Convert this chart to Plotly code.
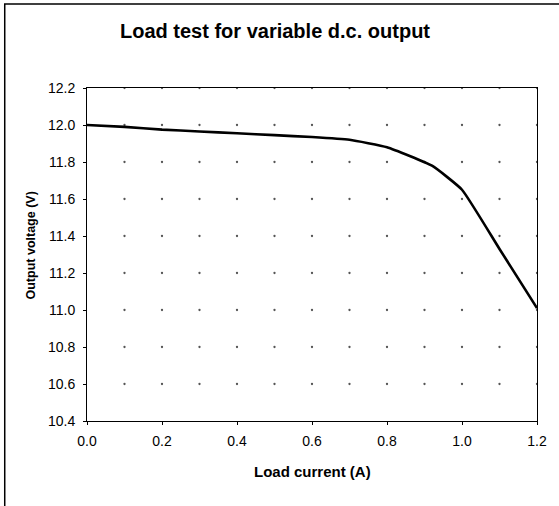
import numpy as np
import plotly.graph_objects as go

# Load test readings
current = [0.0, 0.1, 0.2, 0.3, 0.4, 0.5, 0.6, 0.7, 0.8, 0.92, 1.0, 1.1, 1.2]
voltage = [12.00, 11.99, 11.975, 11.965, 11.955, 11.945, 11.935, 11.92, 11.88, 11.78, 11.65, 11.33, 11.01]

x_ticks = [0.0, 0.2, 0.4, 0.6, 0.8, 1.0, 1.2]
y_ticks = [10.4, 10.6, 10.8, 11.0, 11.2, 11.4, 11.6, 11.8, 12.0, 12.2]

W, H = 559, 506
L, R, T, B = 87, 18, 88, 85
pw, ph = W - L - R, H - T - B

FONT = "Liberation Sans, Arial, sans-serif"

fig = go.Figure()

# dotted grid (Excel-style dots at every minor x step and every y tick)
gx, gy = np.meshgrid(np.arange(1, 13) / 10, np.array(y_ticks[1:]))
fig.add_trace(go.Scatter(
    x=gx.ravel(), y=gy.ravel(), mode="markers",
    marker=dict(size=2.3, color="#555555"),
    hoverinfo="skip", showlegend=False,
))

fig.add_trace(go.Scatter(
    x=current, y=voltage, mode="lines",
    line=dict(color="black", width=2.6, shape="spline", smoothing=0.4),
    showlegend=False,
))

tick_font = dict(family=FONT, size=14, color="black")

fig.update_xaxes(
    range=[0, 1.2], tickvals=x_ticks, ticktext=[f"{v:.1f}" for v in x_ticks],
    showgrid=False, zeroline=False,
    showline=True, linecolor="black", linewidth=1, mirror=True,
    ticks="outside", ticklen=3, tickcolor="black",
    tickfont=tick_font, ticklabelstandoff=4,
)
fig.update_yaxes(
    range=[10.4, 12.2], tickvals=y_ticks, ticktext=[f"{v:.1f}" for v in y_ticks],
    showgrid=False, zeroline=False,
    showline=True, linecolor="black", linewidth=1, mirror=True,
    ticks="outside", ticklen=3, tickcolor="black",
    tickfont=tick_font, ticklabelstandoff=5,
)

# axis titles
fig.add_annotation(
    text="<b>Load current (A)</b>", xref="paper", yref="paper",
    x=(314 - L) / pw, y=-(471 - T - ph) / ph, xanchor="center", yanchor="middle",
    showarrow=False, font=dict(family=FONT, size=15, color="black"),
)
fig.add_annotation(
    text="<b>Output voltage (V)</b>", xref="paper", yref="paper", textangle=-90,
    x=(31 - L) / pw, y=1 - (245 - T) / ph, xanchor="center", yanchor="middle",
    showarrow=False, font=dict(family=FONT, size=12.5, color="black"),
)

# outer chart border (only left/top fall inside the picture)
fig.add_shape(
    type="rect", xref="paper", yref="paper",
    x0=(4 - L) / pw, x1=(W + 10 - L) / pw,
    y0=-(H + 10 - T - ph) / ph, y1=1 + (T - 4) / ph,
    line=dict(color="black", width=1.5),
)

fig.update_layout(
    width=W, height=H,
    margin=dict(l=L, r=R, t=T, b=B),
    paper_bgcolor="white", plot_bgcolor="white",
    title=dict(
        text="<b>Load test for variable d.c. output</b>",
        x=275 / W, xanchor="center", y=1 - 31 / H, yanchor="middle",
        font=dict(family=FONT, size=20, color="black"),
    ),
)

fig.write_html("out.html", config={"displayModeBar": False},
               post_script="document.body.style.margin='0';")
